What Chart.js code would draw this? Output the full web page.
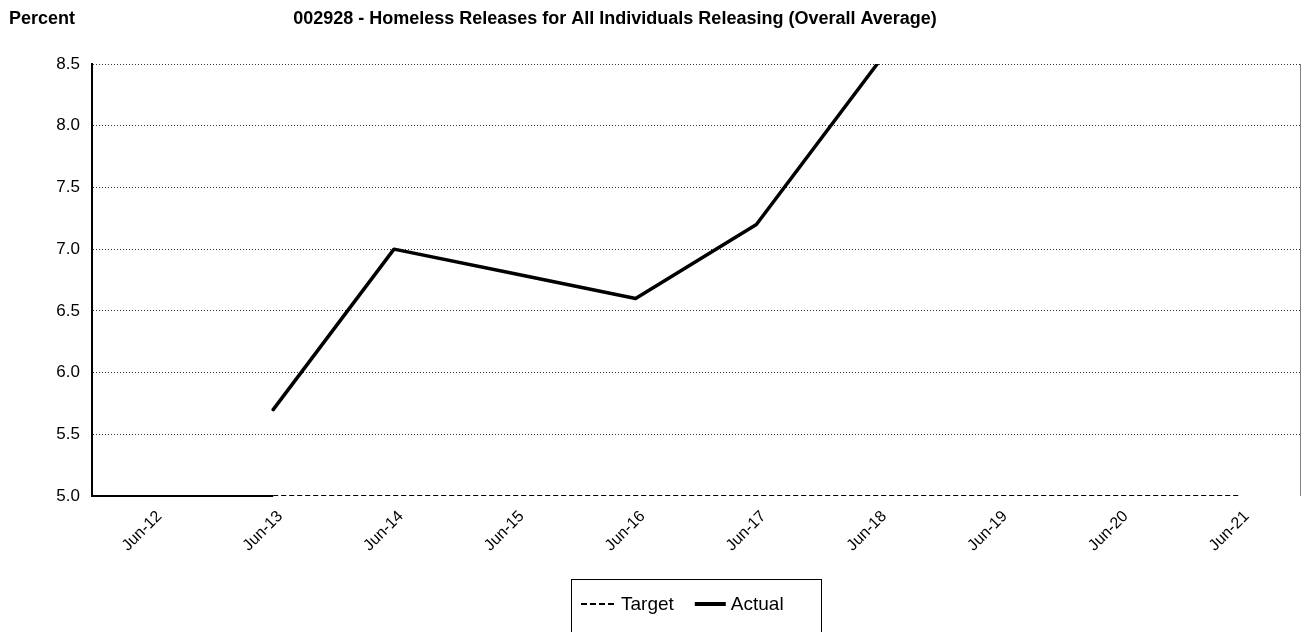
<!DOCTYPE html>
<html>
<head>
<meta charset="utf-8">
<script src="https://cdn.jsdelivr.net/npm/chart.js@4/dist/chart.umd.min.js"></script>
<style>
  html, body { margin: 0; padding: 0; background: #fff; }
  #wrap { width: 1306px; height: 632px; position: relative; }
</style>
</head>
<body>
<div id="wrap"><canvas id="chart" width="1306" height="632"></canvas></div>
<script>
"use strict";

// ── Data ─────────────────────────────────────────────────────────────────────
const PERIODS = ["Jun-12","Jun-13","Jun-14","Jun-15","Jun-16","Jun-17","Jun-18","Jun-19","Jun-20","Jun-21"];
const TARGET  = [null, 5.0, 5.0, 5.0, 5.0, 5.0, 5.0, 5.0, 5.0, 5.0];
const ACTUAL  = [null, 5.7, 7.0, 6.8, 6.6, 7.2, 8.5, null, null, null];

const Y_MIN = 5.0, Y_MAX = 8.5, Y_STEP = 0.5;

const AXIS_TITLE = "Percent";
const CHART_TITLE = "002928 - Homeless Releases for All Individuals Releasing (Overall Average)";

const FONT = "'Liberation Sans', Arial, sans-serif";

// ── Titles, frame pieces and legend drawn on the canvas ─────────────────────
const decorations = {
  id: "decorations",
  beforeDatasetsDraw(chart) {
    // bottom axis piece: solid up to where the target line begins
    const { ctx, chartArea: a, scales: { x } } = chart;
    const firstTarget = TARGET.findIndex(v => v !== null);
    ctx.save();
    ctx.strokeStyle = "#000";
    ctx.lineWidth = 2;
    ctx.beginPath();
    ctx.moveTo(a.left, a.bottom);
    ctx.lineTo(x.getPixelForValue(firstTarget), a.bottom);
    ctx.stroke();
    ctx.restore();
  },
  afterDraw(chart) {
    const { ctx, chartArea: a } = chart;
    ctx.save();

    // titles
    ctx.fillStyle = "#000";
    ctx.textBaseline = "alphabetic";
    ctx.font = `bold 18px ${FONT}`;
    ctx.textAlign = "left";
    ctx.fillText(AXIS_TITLE, 9, 24);
    ctx.textAlign = "center";
    ctx.fillText(CHART_TITLE, 615, 24);

    // right frame edge
    ctx.strokeStyle = "#808080";
    ctx.lineWidth = 1;
    ctx.beginPath();
    ctx.moveTo(a.right + 0.5, a.top);
    ctx.lineTo(a.right + 0.5, a.bottom);
    ctx.stroke();

    // legend box
    const lx = 571, ly = 579, lw = 250, lh = 70;
    ctx.strokeStyle = "#000";
    ctx.strokeRect(lx + 0.5, ly + 0.5, lw, lh);

    const ty = 604;
    let x = lx + 10;
    ctx.font = `19px ${FONT}`;
    ctx.textAlign = "left";
    ctx.textBaseline = "middle";
    chart.data.datasets.forEach((ds, i) => {
      const sw = i === 0 ? 35 : 31;
      ctx.strokeStyle = ds.borderColor;
      ctx.lineWidth = i === 0 ? 2 : 4;
      ctx.setLineDash(i === 0 ? [6, 3] : []);
      ctx.beginPath();
      ctx.moveTo(x, ty);
      ctx.lineTo(x + sw, ty);
      ctx.stroke();
      ctx.setLineDash([]);
      x += sw + 5;
      ctx.fillStyle = "#000";
      ctx.fillText(ds.label, x, ty + 1);
      x += ctx.measureText(ds.label).width + 21;
    });

    ctx.restore();
  },
};

new Chart(document.getElementById("chart"), {
  type: "line",
  data: {
    labels: PERIODS,
    datasets: [
      { label: "Target", data: TARGET, borderColor: "#000", borderWidth: 2, borderDash: [5, 3], pointRadius: 0, tension: 0, fill: false },
      { label: "Actual", data: ACTUAL, borderColor: "#000", borderWidth: 3.5, pointRadius: 0, tension: 0, fill: false, borderCapStyle: "round", borderJoinStyle: "round" },
    ],
  },
  options: {
    responsive: false,
    animation: false,
    layout: { padding: { top: 64, left: 0, right: 6, bottom: 0 } },
    plugins: {
      legend: { display: false },
      title: { display: false },
      tooltip: { enabled: false },
    },
    scales: {
      x: {
        offset: true,
        grid: { display: false, drawTicks: false },
        border: { display: false },
        ticks: {
          color: "#000",
          font: { family: FONT, size: 16 },
          maxRotation: 45,
          minRotation: 45,
          padding: 11,
          labelOffset: 7,
          autoSkip: false,
        },
        afterFit: s => { s.height = 136; },
      },
      y: {
        min: Y_MIN,
        max: Y_MAX,
        grid: {
          color: c => (c.tick && c.tick.value === Y_MIN ? "rgba(0,0,0,0)" : "#333"),
          lineWidth: 1,
          drawTicks: false,
        },
        border: { display: true, color: "#000", width: 2, dash: [1, 2] },
        ticks: {
          stepSize: Y_STEP,
          color: "#000",
          font: { family: FONT, size: 17 },
          padding: 12,
          callback: v => v.toFixed(1),
        },
        afterFit: s => { s.width = 92; },
      },
    },
  },
  plugins: [decorations],
});
</script>
</body>
</html>
